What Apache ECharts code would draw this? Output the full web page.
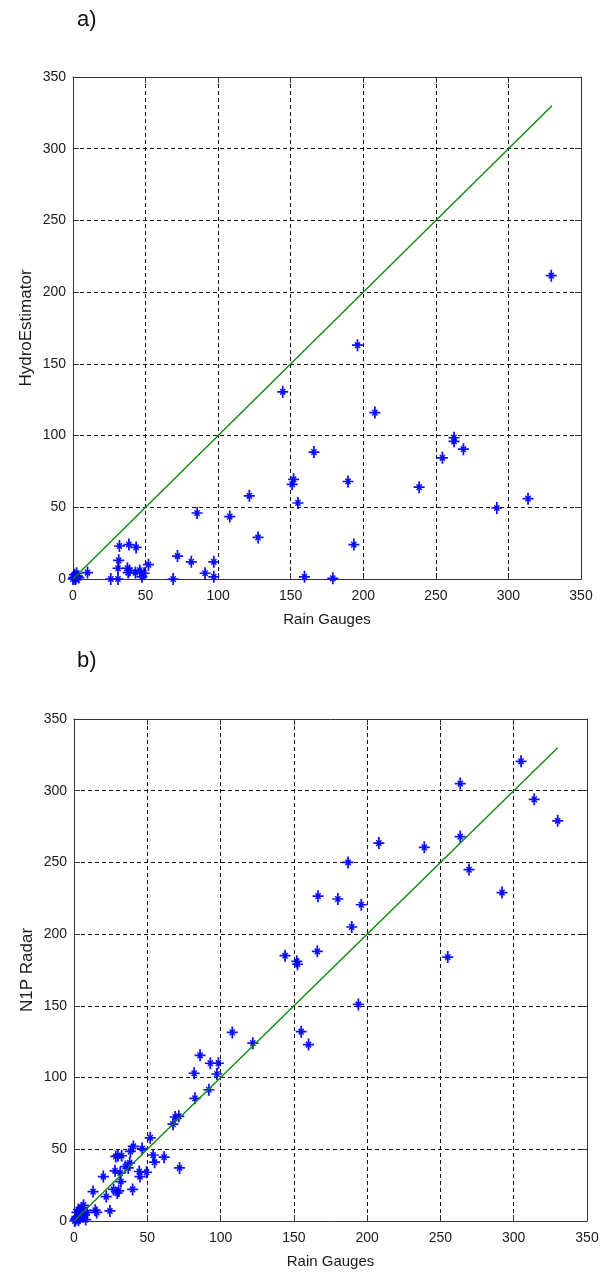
<!DOCTYPE html>
<html>
<head>
<meta charset="utf-8">
<title>Rain gauge comparison</title>
<script src="https://cdn.jsdelivr.net/npm/echarts@6/dist/echarts.min.js"></script>
<style>
  html, body { margin: 0; padding: 0; background: #fff; }
  #chart { width: 610px; height: 1274px; }
</style>
</head>
<body>
<div id="chart"></div>
<script>
// Panel a): rain gauge totals vs HydroEstimator estimates
const gaugeA = [0, 0.5, 1, 1.5, 2, 2.5, 3, 4, 10,
  26, 31, 31, 31.5, 32, 37.5, 38, 39, 38.5, 43.5, 43, 46, 47.5, 49, 52,
  69, 72, 81.5, 85.5, 91, 97, 97,
  108, 121.5, 127.5, 144.5, 151, 152, 155, 159.5, 166, 179, 189.5, 193.5, 196, 208,
  238.5, 254.5, 262.5, 262.5, 269, 292, 313.5, 329.5];
const hydroA = [0, 1, 3, 0, 0.5, 4, 2, 1, 4.5,
  0, 0, 7.5, 13, 23, 7.5, 4.5, 6, 24, 22, 4.5, 6, 1.5, 4, 10,
  0, 16, 12, 46, 4, 12, 1.5,
  43.5, 58, 29, 130.5, 66, 69.5, 53, 1.5, 88.5, 0.5, 68, 24, 163, 116,
  64, 84.5, 98.5, 96, 90.5, 49.5, 56, 211.5];

// Panel b): rain gauge totals vs N1P radar estimates
const gaugeB = [0.5, 1, 1.5, 2, 2, 3, 3, 4, 4, 5, 5, 6, 6.5, 7, 8, 9,
  13, 14.5, 15.5, 20, 22, 24.5, 27, 28, 28.5, 29.5, 30, 30.5, 31.5, 32, 32.5,
  35, 37, 38, 38.5, 40, 40.5, 44.5, 45, 46.5, 49.5, 52, 54, 55, 61.5,
  67.5, 69, 71.5, 72, 82, 82.5, 86, 92, 93, 97.5, 98.5, 108, 122,
  144, 152, 152.5, 155, 160, 166, 166.5, 180, 187, 189.5, 194, 196, 208,
  239, 255, 263.5, 263.5, 269.5, 292, 305, 314, 330];
const radarB = [0, 1, 2, 3, 6, 0.5, 8, 2, 4.5, 5, 9, 3, 11, 4, 1, 6,
  20.5, 7.5, 6, 31, 17, 7, 22, 35, 45, 19.5, 45.5, 21, 33.5, 27.5, 45.5,
  38, 37, 40.5, 48.5, 22, 52, 34.5, 31, 50.5, 34, 58, 46, 41, 44.5,
  67.5, 72.5, 73, 37, 103, 85.5, 115.5, 91.5, 110, 102.5, 110, 131.5, 124,
  185, 181, 179, 132, 123, 188, 226.5, 224.5, 250, 205, 151, 220.5, 263.5,
  260.5, 184, 305, 268, 245, 229, 320.5, 294, 279];

// 1:1 reference line
const oneToOne = [[0, 0], [330, 330]];

const axisTicks = [0, 50, 100, 150, 200, 250, 300, 350];

const pairs = (xs, ys) => xs.map((x, i) => [x, ys[i]]);

// asterisk marker: full-length plus, shorter diagonals and a solid centre
const asterisk = 'path://M4.2,0 L5.8,0 L5.8,10 L4.2,10 Z ' +
  'M0,4.3 L10,4.3 L10,5.7 L0,5.7 Z ' +
  'M2.2,3.1 L3.1,2.2 L7.8,6.9 L6.9,7.8 Z ' +
  'M6.9,2.2 L7.8,3.1 L3.1,7.8 L2.2,6.9 Z ' +
  'M3.4,3.4 L6.6,3.4 L6.6,6.6 L3.4,6.6 Z';

const FONT = '"Liberation Sans", Arial, sans-serif';
const TXT = '#1a1a1a';
const FRAME = '#333';

function axisPair(kind, gridIndex, name) {
  const base = {
    type: 'value', gridIndex,
    min: axisTicks[0], max: axisTicks[axisTicks.length - 1], interval: 50,
    axisLine: { show: true, onZero: false, lineStyle: { color: FRAME, width: 1 } },
    axisTick: { show: true, inside: true, length: 6, lineStyle: { color: FRAME } },
  };
  const main = Object.assign({}, base, {
    position: kind === 'x' ? 'bottom' : 'left',
    name,
    nameLocation: 'middle',
    nameMoveOverlap: false,
    nameGap: kind === 'x' ? 33 : 38,
    nameTextStyle: { fontFamily: FONT, fontSize: kind === 'x' ? 15 : 17, color: TXT },
    axisLabel: { fontFamily: FONT, fontSize: 14, color: TXT, margin: kind === 'x' ? 10 : 7 },
    splitLine: { show: true, lineStyle: { color: '#111', width: 1, type: [4, 3] } },
  });
  const mirror = Object.assign({}, base, {
    position: kind === 'x' ? 'top' : 'right',
    axisLabel: { show: false },
    splitLine: { show: false },
  });
  return [main, mirror];
}

const [xa, xaTop] = axisPair('x', 0, 'Rain Gauges');
const [ya, yaRight] = axisPair('y', 0, 'HydroEstimator');
const [xb, xbTop] = axisPair('x', 1, 'Rain Gauges');
const [yb, ybRight] = axisPair('y', 1, 'N1P Radar');

function scatter(xIdx, yIdx, data) {
  return {
    type: 'scatter', xAxisIndex: xIdx, yAxisIndex: yIdx,
    data, symbol: asterisk, symbolSize: [11, 12],
    itemStyle: { color: '#0000ff', opacity: 0.95 },
    emphasis: { disabled: true }, z: 2,
  };
}
function refLine(xIdx, yIdx) {
  return {
    type: 'line', xAxisIndex: xIdx, yAxisIndex: yIdx,
    data: oneToOne, showSymbol: false, symbol: 'none',
    lineStyle: { color: '#0c8a0c', width: 1.4 },
    emphasis: { disabled: true }, z: 3,
  };
}

const chart = echarts.init(document.getElementById('chart'), null, { renderer: 'canvas' });
chart.setOption({
  animation: false,
  backgroundColor: '#ffffff',
  grid: [
    { left: 73, top: 77, width: 508, height: 502, containLabel: false },
    { left: 74, top: 719, width: 513, height: 502, containLabel: false },
  ],
  xAxis: [xa, xaTop, xb, xbTop],
  yAxis: [ya, yaRight, yb, ybRight],
  graphic: [
    { type: 'text', left: 77, top: 9, style: { text: 'a)', font: '22px ' + FONT, fill: '#111' } },
    { type: 'text', left: 77, top: 650, style: { text: 'b)', font: '22px ' + FONT, fill: '#111' } },
  ],
  series: [
    scatter(0, 0, pairs(gaugeA, hydroA)),
    refLine(0, 0),
    scatter(2, 2, pairs(gaugeB, radarB)),
    refLine(2, 2),
  ],
});
</script>
</body>
</html>
